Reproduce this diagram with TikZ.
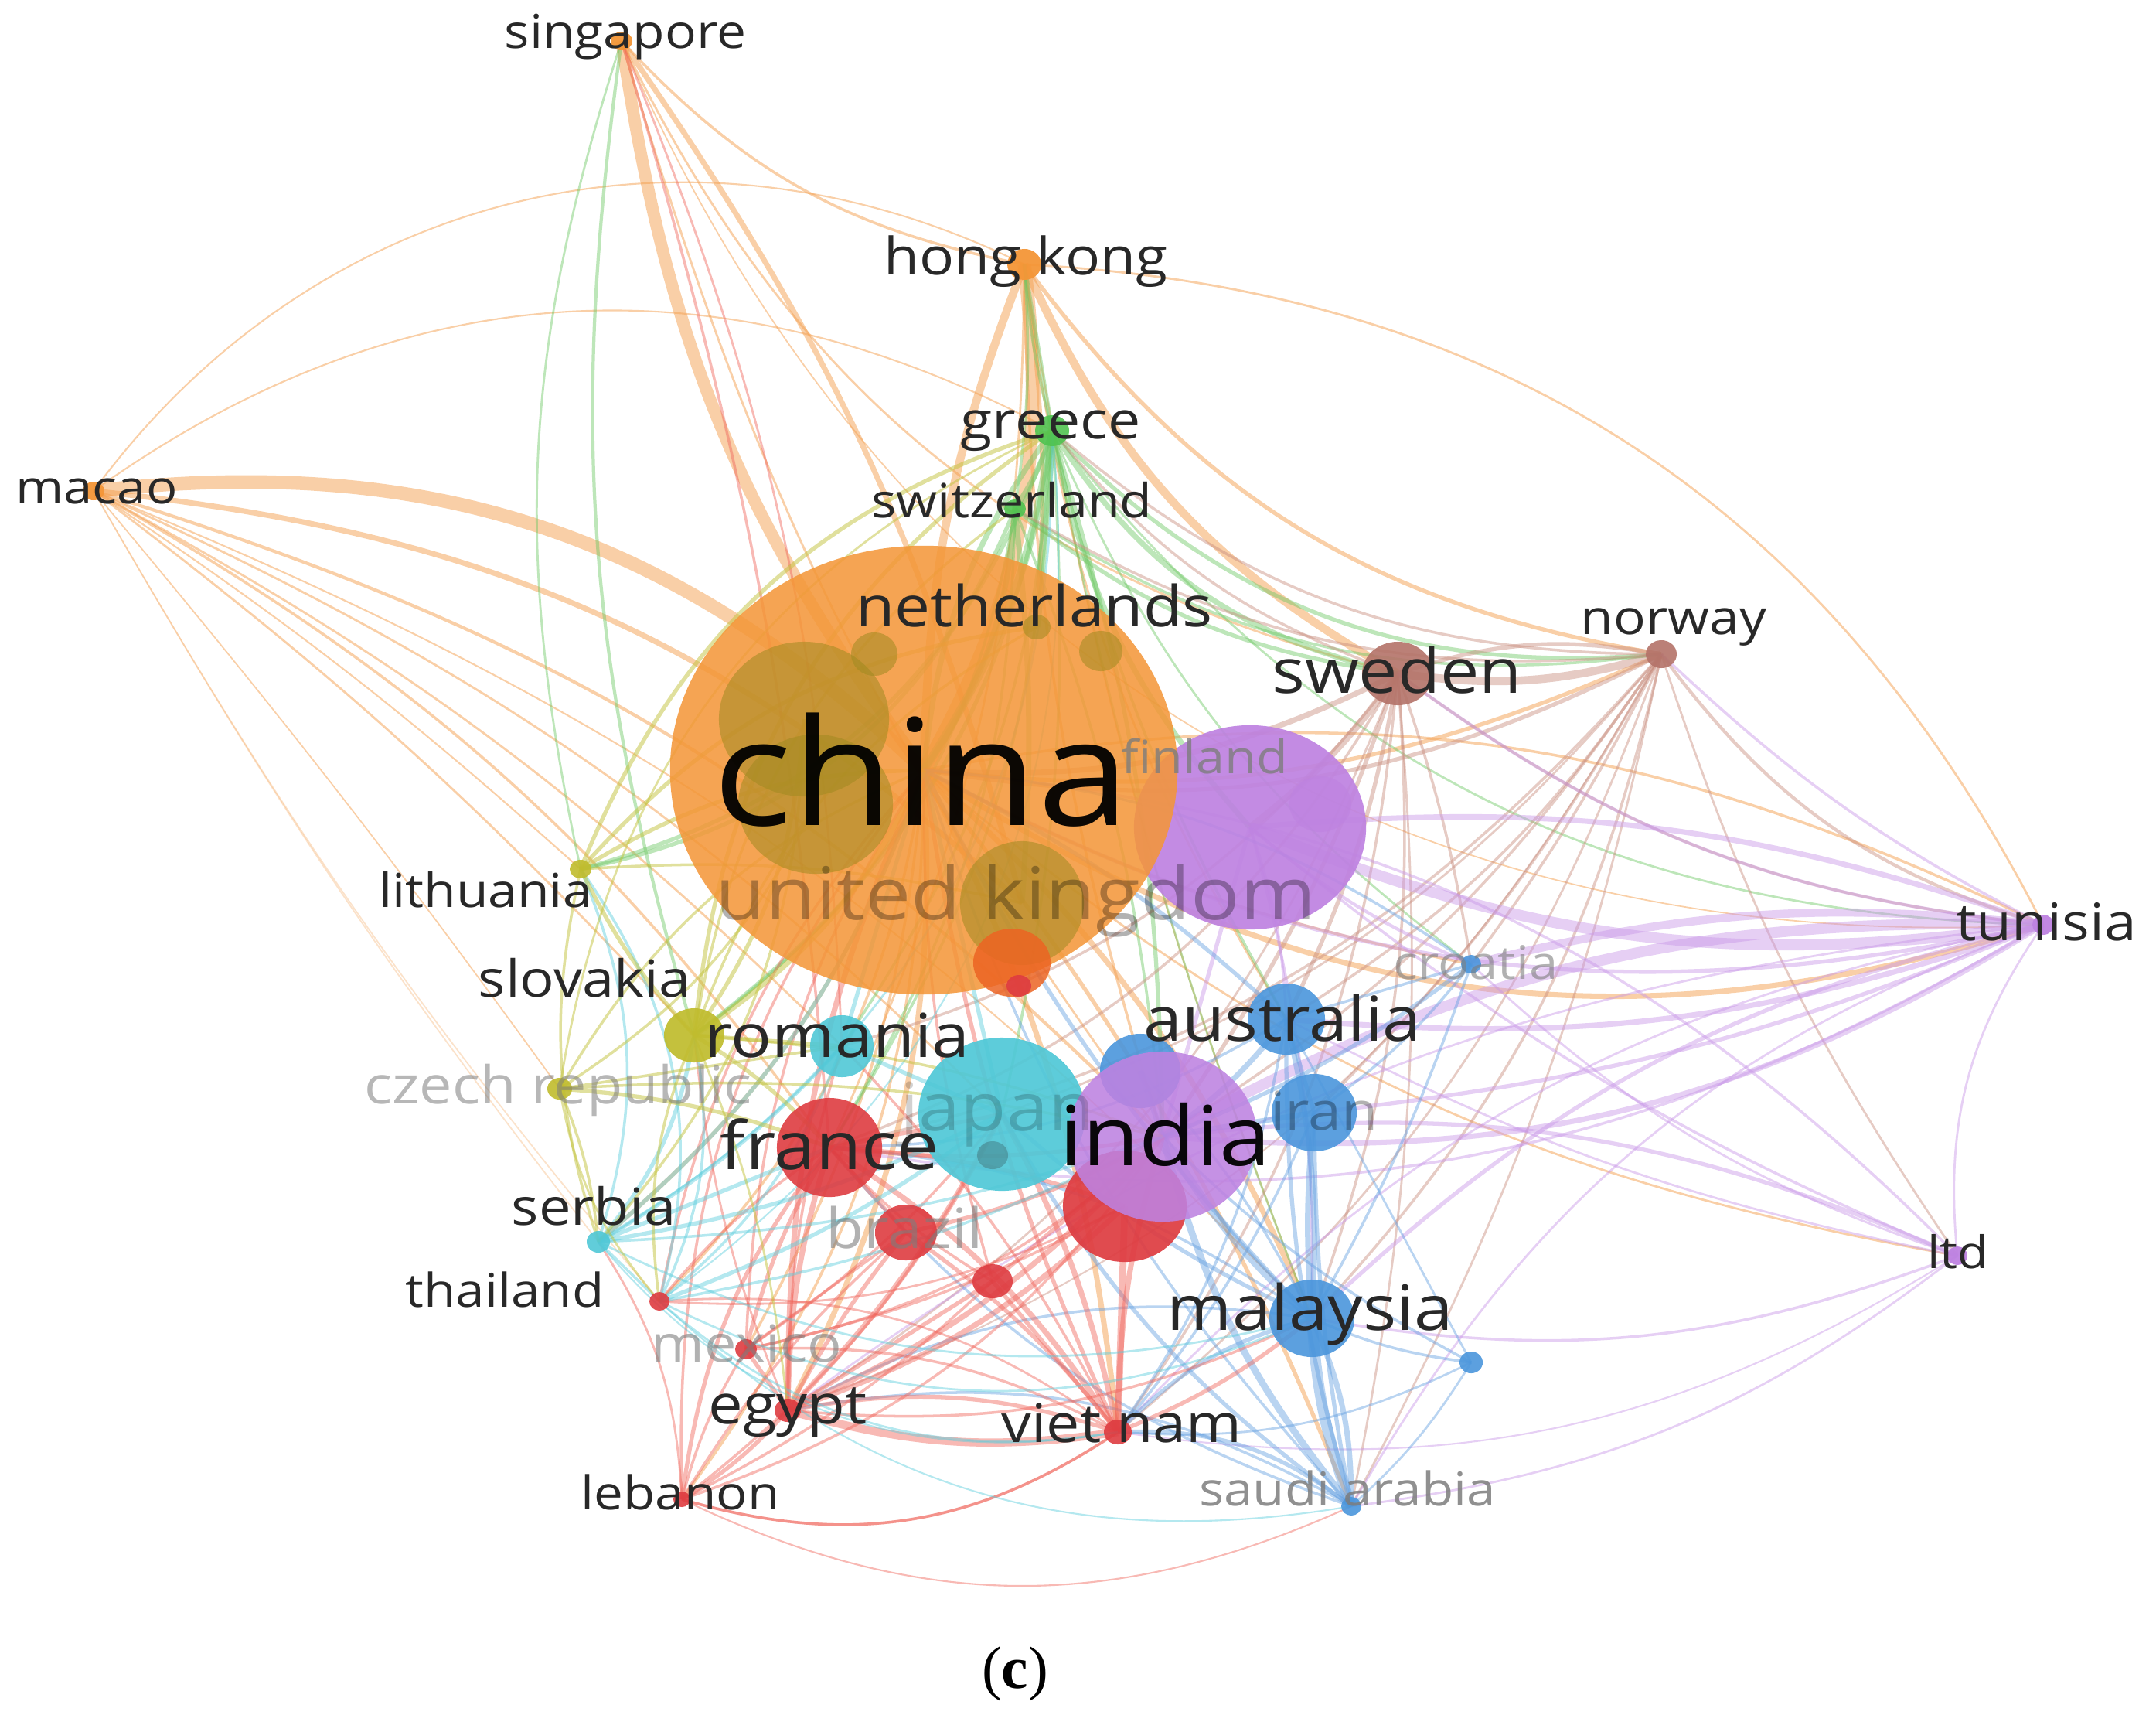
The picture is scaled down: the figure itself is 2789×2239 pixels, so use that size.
\documentclass[tikz,border=0pt]{standalone}
\usepackage{fontspec}
\setmainfont{Open Sans}
\newfontfamily\capfont{Liberation Serif}
\usetikzlibrary{shapes.geometric}
\pgfdeclarelayer{bgw}\pgfdeclarelayer{bg}\pgfsetlayers{bgw,bg,main}
\definecolor{cOr}{RGB}{244,150,55}
\definecolor{cOl}{RGB}{160,138,32}
\definecolor{cYe}{RGB}{192,188,45}
\definecolor{cRd}{RGB}{222,60,65}
\definecolor{cOR}{RGB}{236,100,35}
\definecolor{cCy}{RGB}{80,200,215}
\definecolor{cPu}{RGB}{190,130,225}
\definecolor{cBl}{RGB}{75,150,220}
\definecolor{cBr}{RGB}{180,115,105}
\definecolor{cGn}{RGB}{80,195,80}
\definecolor{cTx}{RGB}{40,40,40}
\definecolor{cFd}{RGB}{125,125,125}
\definecolor{eOr}{RGB}{245,160,80}
\definecolor{eGn}{RGB}{110,200,100}
\definecolor{eBr}{RGB}{200,140,125}
\definecolor{ePu}{RGB}{200,150,232}
\definecolor{eBl}{RGB}{100,160,225}
\definecolor{eRd}{RGB}{240,100,90}
\definecolor{eCy}{RGB}{90,205,220}
\definecolor{eOl}{RGB}{195,195,60}
\tikzset{bub/.style={ellipse, inner sep=0pt, draw=none}}
\newcommand\Bb[7]{\node[bub, fill=#6, fill opacity=#7, minimum width=#4*0.02cm, minimum height=#5*0.02cm] (#1) at (#2,#3) {};}
\newcommand\Lb[7]{\node[inner sep=0pt, text=#5, text opacity=#6, font=\fontsize{#4}{#4}\selectfont] (#1) at (#2,#3) {\scalebox{1.12}[1]{#7}};}
\newcommand\Es[3]{\foreach \a/\b/\w/\k in {#3} {\draw[draw=#1, draw opacity=#2, line width=\w pt] (\a.center) to[bend left=\k] (\b.center);}}
\begin{document}
\begin{tikzpicture}[x=0.01cm, y=-0.01cm]
\useasboundingbox (0,0) rectangle (2789,2239);
\begin{pgfonlayer}{bgw}
\fill[white] (0,0) rectangle (2789,2239);
\end{pgfonlayer}
% bubbles
\Bb{pu}{1617}{1070}{150}{132}{cPu}{0.92}
\Bb{cn}{1195}{996}{328}{290}{cOr}{0.86}
\Bb{ol1}{1040}{930}{110}{100}{cOl}{0.55}
\Bb{ol2}{1055}{1040}{100}{90}{cOl}{0.55}
\Bb{uk}{1322}{1168}{80}{80}{cOl}{0.55}
\Bb{ol3}{1131}{846}{30}{28}{cOl}{0.55}
\Bb{ol4}{1424}{842}{28}{26}{cOl}{0.55}
\Bb{nl}{1341}{811}{18}{16}{cOl}{0.55}
\Bb{or1}{1309}{1245}{50}{44}{cOR}{0.85}
\Bb{rd0}{1318}{1275}{16}{14}{cRd}{0.9}
\Bb{se}{1808}{871}{46}{41}{cBr}{0.9}
\Bb{no}{2149}{846}{20}{18}{cBr}{0.9}
\Bb{gr}{1361}{557}{22}{20}{cGn}{0.9}
\Bb{sw}{1313}{658}{14}{12}{cGn}{0.9}
\Bb{hk}{1325}{342}{22}{20}{cOr}{0.95}
\Bb{sg}{804}{53}{14}{12}{cOr}{0.95}
\Bb{mo}{121}{635}{14}{12}{cOr}{0.95}
\Bb{pu2}{1708}{1040}{40}{36}{cPu}{0.6}
\Bb{bl1}{1475}{1385}{52}{48}{cBl}{0.9}
\Bb{au}{1664}{1318}{50}{46}{cBl}{0.9}
\Bb{ir}{1700}{1439}{55}{50}{cBl}{0.9}
\Bb{hr}{1903}{1247}{13}{12}{cBl}{0.9}
\Bb{ro}{1089}{1353}{41}{40}{cCy}{0.9}
\Bb{sk}{898}{1339}{39}{35}{cYe}{0.92}
\Bb{cz}{724}{1408}{16}{14}{cYe}{0.9}
\Bb{lt}{751}{1124}{14}{12}{cYe}{0.9}
\Bb{jp}{1296}{1441}{108}{99}{cCy}{0.92}
\Bb{jpd}{1284}{1494}{20}{18}{cTx}{0.25}
\Bb{rd1}{1455}{1560}{80}{72}{cRd}{0.92}
\Bb{ind}{1504}{1470}{122}{110}{cPu}{0.88}
\Bb{fr}{1073}{1484}{68}{64}{cRd}{0.9}
\Bb{bz}{1172}{1594}{40}{36}{cRd}{0.9}
\Bb{rd2}{1284}{1657}{26}{22}{cRd}{0.9}
\Bb{rs}{774}{1606}{15}{14}{cCy}{0.9}
\Bb{th}{853}{1683}{13}{12}{cRd}{0.9}
\Bb{mx}{965}{1745}{14}{13}{cRd}{0.9}
\Bb{eg}{1019}{1824}{17}{15}{cRd}{0.9}
\Bb{vn}{1446}{1852}{18}{16}{cRd}{0.9}
\Bb{lb}{882}{1939}{11}{10}{cRd}{0.9}
\Bb{sa}{1748}{1948}{13}{12}{cBl}{0.9}
\Bb{bl2}{1903}{1762}{15}{14}{cBl}{0.9}
\Bb{my}{1697}{1705}{55}{50}{cBl}{0.9}
\Bb{tn}{2643}{1196}{14}{13}{cPu}{0.95}
\Bb{ltd}{2532}{1624}{13}{12}{cPu}{0.95}
% edges
\begin{pgfonlayer}{bg}
\Es{eOr}{0.5}{sg/cn/4.5/-14, sg/uk/2/10, sg/hk/1/-18, sg/se/0.8/-25, sg/ind/0.8/-10, sg/tn/0.5/-35, hk/cn/5/18, hk/cn/3/-10, hk/se/3/-18, hk/no/1.5/-22, hk/tn/0.8/30, hk/ind/1/-8, hk/au/0.8/-12, hk/my/0.6/-6, hk/fr/0.8/12, hk/nl/1.5/6, mo/cn/5/25, mo/uk/2/18, mo/hk/0.6/40, mo/gr/0.6/32, mo/fr/1/12, mo/ind/1.2/14, mo/ro/0.8/8, mo/lt/0.6/4, mo/sk/0.8/5, mo/cz/0.5/2, mo/jp/0.8/10, mo/my/0.6/12, cn/tn/2/-25, cn/tn/1/18, cn/my/2/12, cn/eg/2/15, cn/vn/2/10, cn/lb/1/18, cn/sa/1.5/8, cn/no/1.5/-15, cn/ltd/0.8/-15, cn/th/1/18, cn/rs/1.5/15, cn/mx/1/12, cn/hr/1/-8}
\Es{eOr}{0.3}{mo/th/0.5/-5, mo/rs/0.5/-4}
\Es{eRd}{0.45}{sg/fr/1/6, sg/ro/0.8/10}
\Es{eGn}{0.45}{gr/cn/3/12, gr/cn/2/-15, gr/nl/3/0, gr/sw/2/8, gr/se/2/-22, gr/no/1.5/-25, gr/pu/2/-15, gr/ind/1.5/8, gr/au/1/-8, gr/fr/1/15, gr/ro/1/15, gr/sk/1.5/22, gr/lt/1.5/28, gr/my/0.8/-5, gr/tn/0.8/-25, gr/hk/1.5/0, gr/jp/1/8, sw/cn/2/15, sw/se/1.5/-15, sw/no/1/-20, sw/ind/1/8, sw/fr/1/15, sw/lt/1.5/28, sw/sk/1/22, sw/uk/2/5, sg/sk/1.2/-12, sg/lt/0.8/-15, hk/gr/1/-5, hk/sw/1/6, gr/hr/0.8/-15}
\Es{eBr}{0.45}{se/no/3/-12, se/no/1.5/14, se/cn/2/15, se/pu/2.5/8, se/ind/1.5/8, se/my/1/12, se/au/1.5/8, se/fr/1/20, se/tn/1/-15, se/vn/1/15, se/eg/0.8/18, se/hr/1/5, se/gr/1/15, se/ro/1/18, se/sa/0.8/8, no/tn/1.2/-18, no/ind/1/12, no/my/1/15, no/au/1/12, no/sa/0.8/8, no/ltd/0.8/-8, no/hr/1/5, no/fr/1/18, no/ir/1/8, no/cn/1.5/18, no/vn/0.8/15, no/eg/0.6/20, no/jp/0.8/15, no/gr/1/20, no/sw/1/18}
\Es{ePu}{0.45}{tn/pu/4/15, tn/pu/2/-12, tn/ind/4/-15, tn/ind/2/18, tn/hr/3/-10, tn/au/2/12, tn/my/1.5/-15, tn/cn/1.5/20, tn/fr/1/20, tn/vn/0.8/-18, tn/ltd/0.8/-20, tn/ir/1.5/8, tn/eg/0.8/-15, tn/sa/0.8/-20, tn/se/1.2/15, tn/no/1/8, ltd/ind/1.5/-15, ltd/cn/1/-20, ltd/my/1/15, ltd/au/0.8/8, ltd/hr/0.8/12, ltd/sa/0.8/15, ltd/vn/0.6/20, ltd/pu/1/8, ind/pu/1.5/0, pu/my/1/8, pu/au/1/8, pu/hr/1.2/-8}
\Es{eBl}{0.45}{my/sa/4/-8, my/sa/2/12, my/ind/3/8, my/au/2/-8, my/ir/2/5, my/vn/1.5/-15, my/eg/1/-18, my/cn/1.5/8, my/fr/1/-15, my/jp/1.5/8, sa/ind/2.5/12, sa/au/1.5/8, sa/vn/1.5/-20, sa/eg/1/-20, sa/ir/1.5/5, sa/jp/1.5/12, sa/fr/1/15, sa/cn/1/12, au/ind/2/8, au/cn/1.5/-8, au/ir/1.5/0, hr/ind/1.5/8, hr/au/1/0, hr/cn/1/-15, hr/my/1/5, hr/ir/1/8, bl2/my/1/8, bl2/ind/1/8, bl2/vn/0.8/15, bl2/sa/0.8/8, bl2/au/0.8/0, ir/ind/2/0, bl1/ind/2/0, ir/vn/1/8, au/vn/1/12, au/fr/1/15, bl1/my/1/8}
\Es{eRd}{0.45}{eg/fr/2/8, eg/ind/2/-12, eg/jp/2/-8, eg/vn/3/-12, eg/vn/1.5/14, eg/cn/2/12, eg/bz/1.5/5, eg/mx/1.5/0, eg/lb/1.5/8, eg/rd1/2/-12, eg/my/1/-15, eg/rd2/1.5/0, eg/ro/1/8, vn/ind/2/8, vn/fr/2/-12, vn/jp/2/-8, vn/rd1/2.5/0, vn/cn/1.5/8, vn/bz/1.5/-8, vn/lb/1/25, vn/mx/1/-15, vn/my/1.5/-8, vn/rd2/1.5/0, vn/ro/1/-8, vn/th/0.8/-20, lb/fr/1.5/15, lb/cn/1/20, lb/ind/1/-18, lb/vn/1/-25, lb/jp/1/-12, lb/mx/1/8, lb/bz/1/8, lb/rd2/1/-8, lb/rs/0.8/-15, mx/fr/1.5/8, mx/ind/1/-15, mx/cn/1/15, mx/jp/1/-8, mx/bz/1/0, mx/rd1/1/-8, th/fr/1/8, th/cn/1/15, th/rd1/0.8/-15, fr/jp/1.5/0, fr/ind/1.5/-8, fr/bz/1.5/0, bz/ind/1.5/-8, rd2/ind/1.5/0, rd2/fr/1/8, rd1/fr/1.5/-8, rd2/cn/1/8, eg/sk/0.8/8, lb/sa/0.6/-25}
\Es{eCy}{0.45}{rs/cn/1.5/-15, rs/ro/1.5/-8, rs/fr/1.5/0, rs/ind/1/-8, rs/jp/1.5/-8, rs/th/1/0, rs/sk/1.5/-15, rs/my/0.8/-20, rs/vn/0.6/-30, th/jp/1.5/-8, th/ind/1/-8, th/ro/1/-15, th/vn/0.8/-25, th/my/0.8/-25, th/sa/0.6/-26, th/sk/1/-18, jp/ro/1.5/0, ro/cn/1.5/0, jp/cn/1.5/0, rs/lt/1/-20, th/lt/1/-25, rs/gr/0.8/-30, th/gr/0.6/-30}
\Es{eOl}{0.5}{sk/cn/2/-15, sk/fr/1.5/8, sk/ro/1.5/0, sk/lt/1.5/8, sk/gr/1.5/25, sk/sw/1/22, sk/nl/1/20, lt/cn/1.5/15, lt/nl/1.5/20, lt/gr/1.5/25, lt/uk/1/8, cz/cn/1/18, cz/fr/1.5/8, cz/ind/1/8, cz/rs/1/8, cz/gr/0.8/28, cz/ro/1/0, ol1/sk/1.5/15, ol1/rs/1/20, ol2/cz/1/15, sk/th/1/-15, lt/rs/1/-15, cz/th/0.8/-15, sk/ind/1/8, sk/eg/0.8/8}
\end{pgfonlayer}
% labels
\Lb{Lsg}{809}{48}{17.2}{cTx}{1}{singapore}
\Lb{Lhk}{1327}{338}{19}{cTx}{1}{hong kong}
\Lb{Lgr}{1359}{557}{19.1}{cTx}{1}{greece}
\Lb{Lsw}{1309}{647}{17.3}{cTx}{1}{switzerland}
\Lb{Lmo}{125}{635}{17}{cTx}{1}{macao}
\Lb{Lnl}{1338}{783}{20.8}{cTx}{1}{netherlands}
\Lb{Lcn}{1192}{996}{54.5}{black}{0.95}{china}
\Lb{Lfi}{1558}{978}{16.9}{cFd}{0.8}{finland}
\Lb{Luk}{1314}{1165}{26.8}{black}{0.3}{united kingdom}
\Lb{Lse}{1807}{866}{22.8}{cTx}{1}{sweden}
\Lb{Lno}{2165}{811}{17.6}{cTx}{1}{norway}
\Lb{Llt}{628}{1151}{17.2}{cTx}{1}{lithuania}
\Lb{Lsk}{756}{1265}{18.8}{cTx}{1}{slovakia}
\Lb{Ltn}{2647}{1192}{19}{cTx}{1}{tunisia}
\Lb{Lhr}{1909}{1245}{17}{cFd}{0.6}{croatia}
\Lb{Lau}{1659}{1316}{22.8}{cTx}{1}{australia}
\Lb{Lro}{1083}{1339}{22.3}{cTx}{1}{romania}
\Lb{Lcz}{722}{1410}{19.2}{cFd}{0.55}{czech republic}
\Lb{Ljp}{1290}{1441}{24.6}{black}{0.18}{japan}
\Lb{Lin}{1507}{1467}{30.4}{black}{0.95}{india}
\Lb{Lir}{1713}{1437}{19.6}{black}{0.3}{iran}
\Lb{Lfr}{1073}{1480}{24.5}{cTx}{1}{france}
\Lb{Lrs}{768}{1560}{18.8}{cTx}{1}{serbia}
\Lb{Lbz}{1170}{1588}{20.4}{cFd}{0.6}{brazil}
\Lb{Lth}{653}{1668}{17.1}{cTx}{1}{thailand}
\Lb{Lmy}{1695}{1699}{23}{cTx}{1}{malaysia}
\Lb{Lmx}{966}{1738}{18.8}{cFd}{0.6}{mexico}
\Lb{Leg}{1019}{1827}{20.2}{cTx}{1}{egypt}
\Lb{Lvn}{1451}{1841}{19.6}{cTx}{1}{viet nam}
\Lb{Llb}{880}{1930}{17.1}{cTx}{1}{lebanon}
\Lb{Lsa}{1743}{1925}{17.1}{cFd}{0.85}{saudi arabia}
\Lb{Lltd}{2533}{1619}{16.5}{cTx}{1}{ltd}
\node[inner sep=0pt, font=\capfont\fontsize{22}{22}\selectfont] (cap) at (1313,2165) {(\textbf{c})};
\end{tikzpicture}
\end{document}
